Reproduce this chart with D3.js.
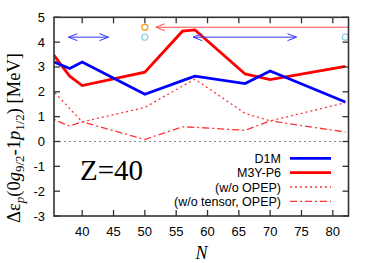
<!DOCTYPE html>
<html><head><meta charset="utf-8">
<script src="https://cdn.jsdelivr.net/npm/d3@7"></script>
<style>body{margin:0;background:#fff}svg{display:block}</style>
</head><body>
<svg id="c" width="375" height="263"></svg>
<script>
const N = [34, 38, 40, 50, 56, 58, 66, 70, 82];
const d1m   = [3.36, 2.94, 3.20, 1.90, 2.45, 2.63, 2.33, 2.84, 1.59];
const m3y   = [3.97, 2.63, 2.25, 2.79, 4.44, 4.49, 2.72, 2.49, 3.02];
const woOPEP = [2.40, 1.33, 0.79, 1.37, 2.23, 2.51, 1.13, 0.83, 1.56];
const woTensor = [1.05, 0.62, 0.79, 0.08, 0.59, 0.57, 0.45, 0.83, 0.38];
const xTicks = [40, 45, 50, 55, 60, 65, 70, 75, 80];
const yTicks = [-3, -2, -1, 0, 1, 2, 3, 4, 5];
const seriesNames = ["D1M", "M3Y-P6", "(w/o OPEP)", "(w/o tensor, OPEP)"];
// arrows: [N start, N end, value]
const redArrow = [82.5, 51.75, 4.6];
const blueArrowLeft = [37.8, 44.2, 4.2];
const blueArrowRight = [57.7, 74.2, 4.2];
const orangeCircle = [50, 4.6];
const lightBlueCircles = [[50, 4.2], [82, 4.2]];

const svg = d3.select("#c");
const L = 54, R = 348.5, T = 17.3, B = 216;
const x = d3.scaleLinear().domain([35.5, 82.5]).range([L, R]);
const y = d3.scaleLinear().domain([-3, 5]).range([B, T]);
const axisCol = "#333";

svg.append("defs").append("clipPath").attr("id", "clip")
  .append("rect").attr("x", L).attr("y", T).attr("width", R - L).attr("height", B - T);

// zero line
svg.append("line").attr("x1", L).attr("x2", R).attr("y1", y(0)).attr("y2", y(0))
  .attr("stroke", "#888").attr("stroke-width", 1).attr("stroke-dasharray", "2,3");

const g = svg.append("g").attr("clip-path", "url(#clip)");
const line = d3.line().x(d => x(d[0])).y(d => y(d[1]));
function draw(vals, color, w, dash) {
  g.append("path").datum(N.map((n, i) => [n, vals[i]])).attr("d", line)
    .attr("fill", "none").attr("stroke", color).attr("stroke-width", w)
    .attr("stroke-dasharray", dash || null).attr("stroke-linejoin", "miter");
}
draw(woOPEP, "#ff3333", 1.3, "2,3");
draw(woTensor, "#ff3333", 1.3, "7,3,2,3");
draw(m3y, "#ff0000", 2.8);
draw(d1m, "#0000ff", 2.8);

// arrows
function arrowHead(xp, yp, dir, color) {
  svg.append("path").attr("d", `M${xp - dir * 9},${yp - 3.5}L${xp},${yp}L${xp - dir * 9},${yp + 3.5}`)
    .attr("fill", "none").attr("stroke", color).attr("stroke-width", 1);
}
function hline(a, color, heads) {
  svg.append("line").attr("x1", x(a[0])).attr("x2", x(a[1])).attr("y1", y(a[2])).attr("y2", y(a[2]))
    .attr("stroke", color).attr("stroke-width", 1);
  heads.forEach(h => arrowHead(x(a[h]), y(a[2]), h === 0 ? (a[0] < a[1] ? -1 : 1) : (a[1] > a[0] ? 1 : -1), color));
}
hline(redArrow, "#ff4d4d", [1]);
hline(blueArrowLeft, "#3333ff", [0, 1]);
hline(blueArrowRight, "#3333ff", [0, 1]);
svg.append("circle").attr("cx", x(orangeCircle[0])).attr("cy", y(orangeCircle[1])).attr("r", 3)
  .attr("fill", "none").attr("stroke", "#f5a020").attr("stroke-width", 1.3);
lightBlueCircles.forEach(c => svg.append("circle").attr("cx", x(c[0])).attr("cy", y(c[1])).attr("r", 3)
  .attr("fill", "none").attr("stroke", "#8fd0ee").attr("stroke-width", 1.3));

// frame
svg.append("rect").attr("x", L).attr("y", T).attr("width", R - L).attr("height", B - T)
  .attr("fill", "none").attr("stroke", axisCol).attr("stroke-width", 1.6);

// ticks
const tl = 6;
xTicks.forEach(t => {
  svg.append("line").attr("x1", x(t)).attr("x2", x(t)).attr("y1", B).attr("y2", B - tl).attr("stroke", axisCol).attr("stroke-width", 1.3);
  svg.append("line").attr("x1", x(t)).attr("x2", x(t)).attr("y1", T).attr("y2", T + tl).attr("stroke", axisCol).attr("stroke-width", 1.3);
  svg.append("text").attr("x", x(t)).attr("y", B + 20).attr("text-anchor", "middle")
    .attr("font-family", "Liberation Sans, Arial, sans-serif").attr("font-size", 13).text(t);
});
yTicks.forEach(t => {
  svg.append("line").attr("x1", L).attr("x2", L + tl).attr("y1", y(t)).attr("y2", y(t)).attr("stroke", axisCol).attr("stroke-width", 1.3);
  svg.append("line").attr("x1", R).attr("x2", R - tl).attr("y1", y(t)).attr("y2", y(t)).attr("stroke", axisCol).attr("stroke-width", 1.3);
  svg.append("text").attr("x", 45).attr("y", y(t) + 4.5).attr("text-anchor", "end")
    .attr("font-family", "Liberation Sans, Arial, sans-serif").attr("font-size", 13).text(t);
});

// Z=40
svg.append("text").attr("x", 80).attr("y", 180).attr("font-family", "Liberation Serif, Times New Roman, serif")
  .attr("font-size", 29).text("Z=40");

// x label
svg.append("text").attr("x", 201.5).attr("y", 259).attr("text-anchor", "middle")
  .attr("font-family", "Liberation Serif, serif").attr("font-style", "italic").attr("font-size", 18).text("N");

// y label
const yl = svg.append("text").attr("transform", "translate(20,138) rotate(-90)").attr("text-anchor", "middle")
  .attr("font-family", "Liberation Serif, serif").attr("font-size", 18.5);
yl.append("tspan").text("Δε");
yl.append("tspan").attr("font-style", "italic").attr("font-size", 13).attr("dy", 4).text("p");
yl.append("tspan").attr("dy", -4).text("(0");
yl.append("tspan").attr("font-style", "italic").text("g");
yl.append("tspan").attr("font-size", 13).attr("dy", 4).text("9/2");
yl.append("tspan").attr("dy", -4).text("-1");
yl.append("tspan").attr("font-style", "italic").text("p");
yl.append("tspan").attr("font-size", 13).attr("dy", 4).text("1/2");
yl.append("tspan").attr("dy", -4).text(") [MeV]");

// legend
const legY = [158.3, 172.7, 187, 201.3];
const legStyle = [["#0000ff", 2.8, null], ["#ff0000", 2.8, null], ["#ff3333", 1.3, "2,3"], ["#ff3333", 1.3, "7,3,2,3"]];
seriesNames.forEach((s, i) => {
  svg.append("text").attr("x", 281).attr("y", legY[i] + 4.5).attr("text-anchor", "end")
    .attr("font-family", "Liberation Sans, Arial, sans-serif").attr("font-size", 12.5).text(s);
  svg.append("line").attr("x1", 290).attr("x2", 331).attr("y1", legY[i]).attr("y2", legY[i])
    .attr("stroke", legStyle[i][0]).attr("stroke-width", legStyle[i][1]).attr("stroke-dasharray", legStyle[i][2]);
});
</script>
</body></html>
